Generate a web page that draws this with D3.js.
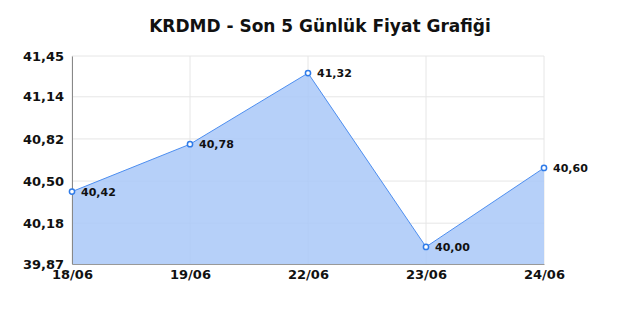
<!DOCTYPE html>
<html>
<head>
<meta charset="utf-8">
<script src="https://cdn.jsdelivr.net/npm/d3@7"></script>
<style>
  body { margin: 0; background: #fff; }
  text { font-family: "DejaVu Sans", sans-serif; }
</style>
</head>
<body>
<svg id="chart" width="640" height="320"></svg>
<script>
const dates = ["18/06", "19/06", "22/06", "23/06", "24/06"];
const prices = [40.42, 40.78, 41.32, 40.00, 40.60];
const yTicks = [39.87, 40.18, 40.50, 40.82, 41.14, 41.45];
const title = "KRDMD - Son 5 Günlük Fiyat Grafiği";

const margin = { top: 56, right: 96, bottom: 56, left: 72 };
const width = 640, height = 320;
const svg = d3.select("#chart");
const fmt = (v) => v.toFixed(2).replace(".", ",");

const x = d3.scalePoint().domain(dates).range([margin.left, width - margin.right]);
const y = d3.scaleLinear().domain([39.87, 41.45]).range([height - margin.bottom, margin.top]);

svg.append("text")
    .attr("x", width / 2).attr("y", 32)
    .attr("text-anchor", "middle")
    .attr("font-size", 17).attr("font-weight", "bold")
    .attr("fill", "#111")
    .text(title);

// grid
svg.append("g")
    .selectAll("line")
    .data(yTicks)
    .join("line")
    .attr("x1", margin.left).attr("x2", width - margin.right)
    .attr("y1", (d) => y(d)).attr("y2", (d) => y(d))
    .attr("stroke", "#e6e6e6");
svg.append("g")
    .selectAll("line")
    .data(dates)
    .join("line")
    .attr("x1", (d) => x(d)).attr("x2", (d) => x(d))
    .attr("y1", margin.top).attr("y2", height - margin.bottom)
    .attr("stroke", "#e6e6e6");

// area
const area = d3.area()
    .x((d, i) => x(dates[i]))
    .y0(y(39.87))
    .y1((d) => y(d));
svg.append("path")
    .datum(prices)
    .attr("d", area)
    .attr("fill", "#a9c8f8")
    .attr("fill-opacity", 0.85);

const line = d3.line()
    .x((d, i) => x(dates[i]))
    .y((d) => y(d));
svg.append("path")
    .datum(prices)
    .attr("d", line)
    .attr("fill", "none")
    .attr("stroke", "#4d8ef0")
    .attr("stroke-width", 1);

// axes
const yAxis = svg.append("g")
    .attr("transform", `translate(${margin.left},0)`)
    .call(d3.axisLeft(y).tickValues(yTicks).tickSize(0).tickPadding(8).tickFormat(fmt));
yAxis.select(".domain").attr("stroke", "#888");
yAxis.selectAll("text")
    .attr("font-size", 13).attr("font-weight", "bold").attr("fill", "#111")
    .attr("font-family", "DejaVu Sans");

const xAxis = svg.append("g")
    .attr("transform", `translate(0,${height - margin.bottom})`)
    .call(d3.axisBottom(x).tickSize(0).tickPadding(6));
xAxis.select(".domain").attr("stroke", "#999");
xAxis.selectAll("text")
    .attr("font-size", 13).attr("font-weight", "bold").attr("fill", "#111")
    .attr("font-family", "DejaVu Sans");

// markers and labels
const pts = svg.append("g")
    .selectAll("g")
    .data(prices)
    .join("g")
    .attr("transform", (d, i) => `translate(${x(dates[i])},${y(d)})`);
pts.append("circle")
    .attr("r", 2.6)
    .attr("fill", "#fff")
    .attr("stroke", "#2f7be8")
    .attr("stroke-width", 1.5);
pts.append("text")
    .attr("x", 9).attr("y", 4)
    .attr("font-size", 11).attr("font-weight", "bold").attr("fill", "#111")
    .text((d) => fmt(d));
</script>
</body>
</html>
